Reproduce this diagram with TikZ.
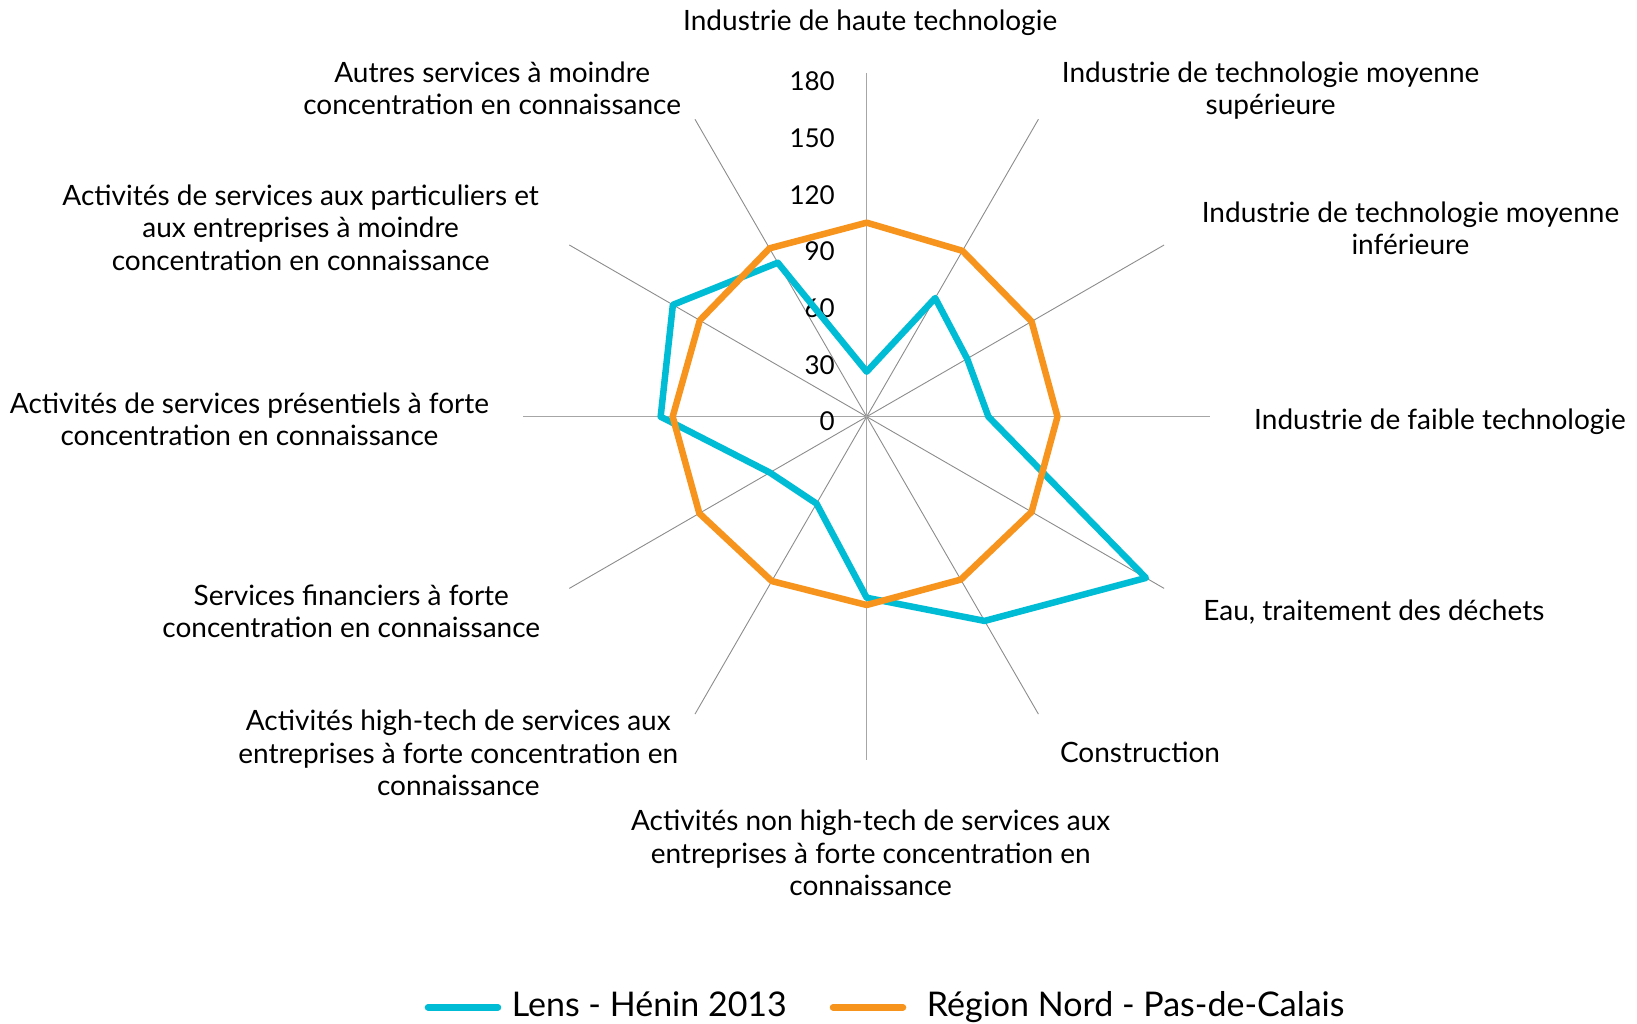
\documentclass[tikz,border=0pt]{standalone}
\usepackage{fontspec}
\setmainfont{Lato}
\definecolor{lenscol}{RGB}{0,188,212}
\definecolor{regcol}{RGB}{247,148,30}
\definecolor{spokeHVcol}{RGB}{166,166,166}
\definecolor{spokeDcol}{RGB}{140,140,140}
\begin{document}
\begin{tikzpicture}[x=1pt,y=1pt,
  lbl/.style={font=\fontsize{28}{32.5}\selectfont, align=center, anchor=base, inner sep=0pt},
  ticklbl/.style={font=\fontsize{26}{30}\selectfont, anchor=base east, inner sep=0pt},
  leg/.style={font=\fontsize{34}{40}\selectfont, anchor=base west, inner sep=0pt},
  series/.style={line width=6.5pt, line join=round},
  legline/.style={line width=6.5pt, line cap=round},
  spokeHV/.style={draw=spokeHVcol, line width=1.4pt},
  spokeD/.style={draw=spokeDcol, line width=0.9pt}
]
\useasboundingbox (-866.7,-607.3) rectangle (770.3,416.7);
\coordinate (ctr) at (0,0);
\foreach \i in {0,...,11} { \coordinate (ax\i) at ({90-30*\i}:343.4); }
\foreach \i in {1,2,4,5,7,8,10,11} \draw[spokeD] (ctr) -- (ax\i);
\foreach \i in {0,3,6,9} \draw[spokeHV] (ctr) -- (ax\i);

% tick labels
\foreach \v in {0,30,...,180} \node[ticklbl] (t\v) at (-31.7,{\v*1.889-14}) {\v};

% data
\foreach \v [count=\i from 0] in {23.6,71.8,60.8,63.8,169,123.6,94.9,52.6,58.6,108,117.3,93.2}
  { \coordinate (L\i) at ({90-30*\i}:{\v*1.9078}); }
\foreach \v [count=\i from 0] in {101.7,100.4,99.8,100,99.8,98.6,98.7,99.5,101.3,101.7,101,101.9}
  { \coordinate (R\i) at ({90-30*\i}:{\v*1.9078}); }
\draw[series, lenscol] (L0) -- (L1) -- (L2) -- (L3) -- (L4) -- (L5) -- (L6) -- (L7) -- (L8) -- (L9) -- (L10) -- (L11) -- cycle;
\draw[series, regcol] (R0) -- (R1) -- (R2) -- (R3) -- (R4) -- (R5) -- (R6) -- (R7) -- (R8) -- (R9) -- (R10) -- (R11) -- cycle;

% category labels (base anchor = baseline of last line)
\node[lbl] (c0) at (3.5,386.6) {Industrie de haute technologie};
\node[lbl] (c1) at (403.9,301.9) {Industrie de technologie moyenne\\supérieure};
\node[lbl] (c2) at (543.8,162) {Industrie de technologie moyenne\\inférieure};
\node[lbl] (c3) at (573.3,-13.3) {Industrie de faible technologie};
\node[lbl] (c4) at (507.1,-204) {Eau, traitement des déchets};
\node[lbl] (c5) at (273.3,-345.3) {Construction};
\node[lbl] (c6) at (4,-479.2) {Activités non high-tech de services aux\\entreprises à forte concentration en\\connaissance};
\node[lbl] (c7) at (-408.4,-379) {Activités high-tech de services aux\\entreprises à forte concentration en\\connaissance};
\node[lbl] (c8) at (-515.4,-221.1) {Services financiers à forte\\concentration en connaissance};
\node[lbl] (c9) at (-617.2,-29.1) {Activités de services présentiels à forte\\concentration en connaissance};
\node[lbl] (c10) at (-566,146.2) {Activités de services aux particuliers et\\aux entreprises à moindre\\concentration en connaissance};
\node[lbl] (c11) at (-374.5,301.9) {Autres services à moindre\\concentration en connaissance};

% legend
\coordinate (la) at (-438.7,-590.6);
\coordinate (lb) at (-368.7,-590.6);
\coordinate (ra) at (-33.7,-590.6);
\coordinate (rb) at (36.3,-590.6);
\draw[legline, lenscol] (la) -- (lb);
\draw[legline, regcol] (ra) -- (rb);
\node[leg] (lt) at (-355,-600) {Lens - Hénin 2013};
\node[leg] (rt) at (60,-600) {Région Nord - Pas-de-Calais};
\end{tikzpicture}
\end{document}
